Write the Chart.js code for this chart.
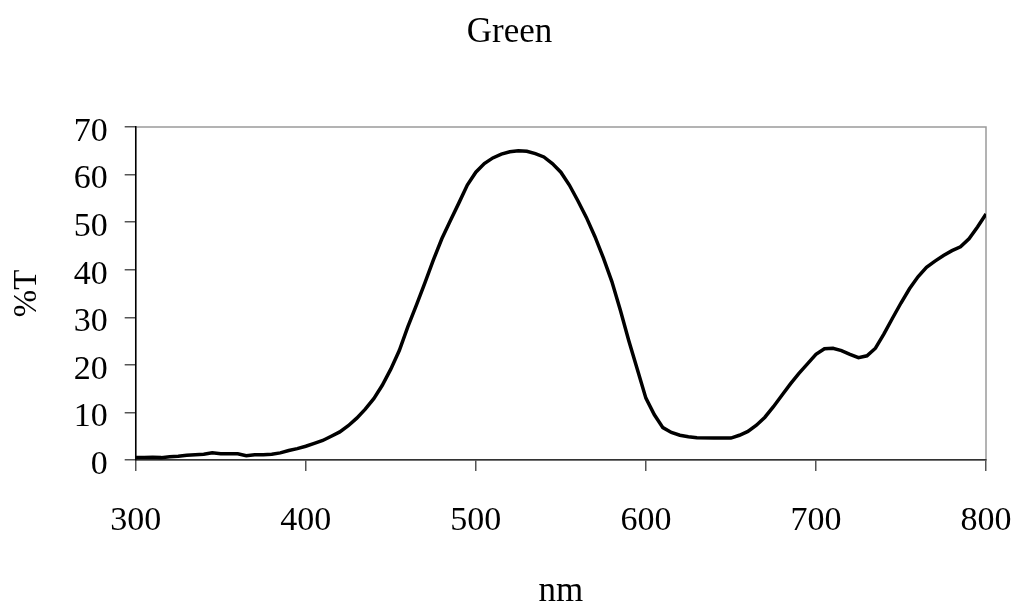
<html>
    <head>
        <meta charset="utf-8">
        <title>Green</title>
        <script src="https://cdn.jsdelivr.net/npm/chart.js@4/dist/chart.umd.min.js"></script>
        <style type="text/css">
            html, body { margin: 0; padding: 0; background: #fff; }
            #wrap { width: 1019px; height: 604px; }
        </style>
    </head>
    <body>
        <div id="wrap"><canvas id="greenChart"></canvas></div>
        <script>
            // wavelength (nm) and transmittance (%T)
            var wavelengths = [300, 305, 310, 315, 320, 325, 330, 335, 340, 345, 350, 355, 360, 365, 370, 375, 380, 385, 390, 395,
                400, 405, 410, 415, 420, 425, 430, 435, 440, 445, 450, 455, 460, 465, 470, 475, 480, 485, 490, 495,
                500, 505, 510, 515, 520, 525, 530, 535, 540, 545, 550, 555, 560, 565, 570, 575, 580, 585, 590, 595,
                600, 605, 610, 615, 620, 625, 630, 640, 650, 655, 660, 665, 670, 675, 680, 685, 690, 695,
                700, 705, 710, 715, 720, 725, 730, 735, 740, 745, 750, 755, 760, 765, 770, 775, 780, 785, 790, 795, 800];
            var transmittance = [0.5, 0.5, 0.6, 0.5, 0.7, 0.8, 1.0, 1.1, 1.2, 1.5, 1.3, 1.3, 1.3, 0.9, 1.1, 1.1, 1.2, 1.5, 2.0, 2.4,
                2.9, 3.5, 4.1, 5.0, 5.9, 7.2, 8.8, 10.7, 12.9, 15.7, 19.1, 23, 28, 32.5, 37.2, 42, 46.5, 50.3, 54, 57.8,
                60.5, 62.3, 63.5, 64.3, 64.8, 65, 64.9, 64.4, 63.7, 62.3, 60.5, 57.8, 54.5, 51, 47, 42.5, 37.5, 31.5, 25, 19,
                13, 9.5, 6.8, 5.8, 5.2, 4.9, 4.7, 4.6, 4.6, 5.2, 6, 7.3, 9.0, 11.2, 13.6, 16, 18.2, 20.2,
                22.2, 23.4, 23.5, 23, 22.2, 21.5, 21.9, 23.5, 26.5, 29.8, 33, 36, 38.5, 40.5, 41.8, 43, 44, 44.8, 46.5, 49, 51.7];
            var xTicks = [300, 400, 500, 600, 700, 800];
            var yTicks = [0, 10, 20, 30, 40, 50, 60, 70];

            var points = wavelengths.map(function(w, i) { return {x: w, y: transmittance[i]}; });
            var serif = "'Liberation Serif', 'Times New Roman', serif";

            // grey box round the plot area; left and bottom axes are drawn over it
            var frame = {
                id: 'frame',
                beforeDraw: function(chart) {
                    var a = chart.chartArea, ctx = chart.ctx;
                    ctx.save();
                    ctx.strokeStyle = '#9a9a9a';
                    ctx.lineWidth = 1.5;
                    ctx.strokeRect(a.left, a.top, a.right - a.left, a.bottom - a.top);
                    ctx.restore();
                }
            };

            var ctx = document.getElementById("greenChart").getContext('2d');
            var chart = new Chart(ctx, {
                type: "line",
                data: {
                    datasets: [{
                        label: 'Green',
                        data: points,
                        borderColor: '#000',
                        borderWidth: 3.5,
                        pointRadius: 0,
                        tension: 0,
                        fill: false
                    }]
                },
                options: {
                    responsive: true,
                    maintainAspectRatio: false,
                    animation: false,
                    layout: { padding: 0 },
                    plugins: {
                        legend: { display: false },
                        tooltip: { enabled: false },
                        title: {
                            display: true,
                            text: 'Green',
                            color: '#000',
                            font: { family: serif, size: 35, weight: 'normal' },
                            padding: { top: 12, bottom: 73 }
                        }
                    },
                    scales: {
                        x: {
                            type: 'linear',
                            min: 300,
                            max: 800,
                            afterFit: function(s) {
                                s.height = 144;
                                // tick padding pushes labels down, not the plot in from the sides
                                s.paddingLeft = 0;
                                s.paddingRight = 33;
                            },
                            afterBuildTicks: function(s) { s.ticks = xTicks.map(function(v) { return {value: v}; }); },
                            border: { display: true, color: '#333', width: 1.5 },
                            grid: { display: true, drawOnChartArea: false, drawTicks: true, tickLength: 11, color: '#555', lineWidth: 1.5 },
                            ticks: { color: '#000', padding: 30, maxRotation: 0, font: { family: serif, size: 34 } },
                            title: {
                                display: true,
                                text: 'nm',
                                color: '#000',
                                font: { family: serif, size: 35 },
                                padding: { top: 0, bottom: -9 }
                            }
                        },
                        y: {
                            min: 0,
                            max: 70,
                            afterFit: function(s) { s.width = 135.7; },
                            afterBuildTicks: function(s) { s.ticks = yTicks.map(function(v) { return {value: v}; }); },
                            border: { display: true, color: '#000', width: 1.5 },
                            grid: { display: true, drawOnChartArea: false, drawTicks: true, tickLength: 11, color: '#555', lineWidth: 1.5 },
                            ticks: { color: '#000', padding: 17, labelOffset: 5, font: { family: serif, size: 34 } },
                            title: {
                                display: true,
                                text: '%T',
                                color: '#000',
                                font: { family: serif, size: 33 },
                                padding: { top: 8, bottom: 0 }
                            }
                        }
                    }
                },
                plugins: [frame]
            });
        </script>
    </body>
</html>
